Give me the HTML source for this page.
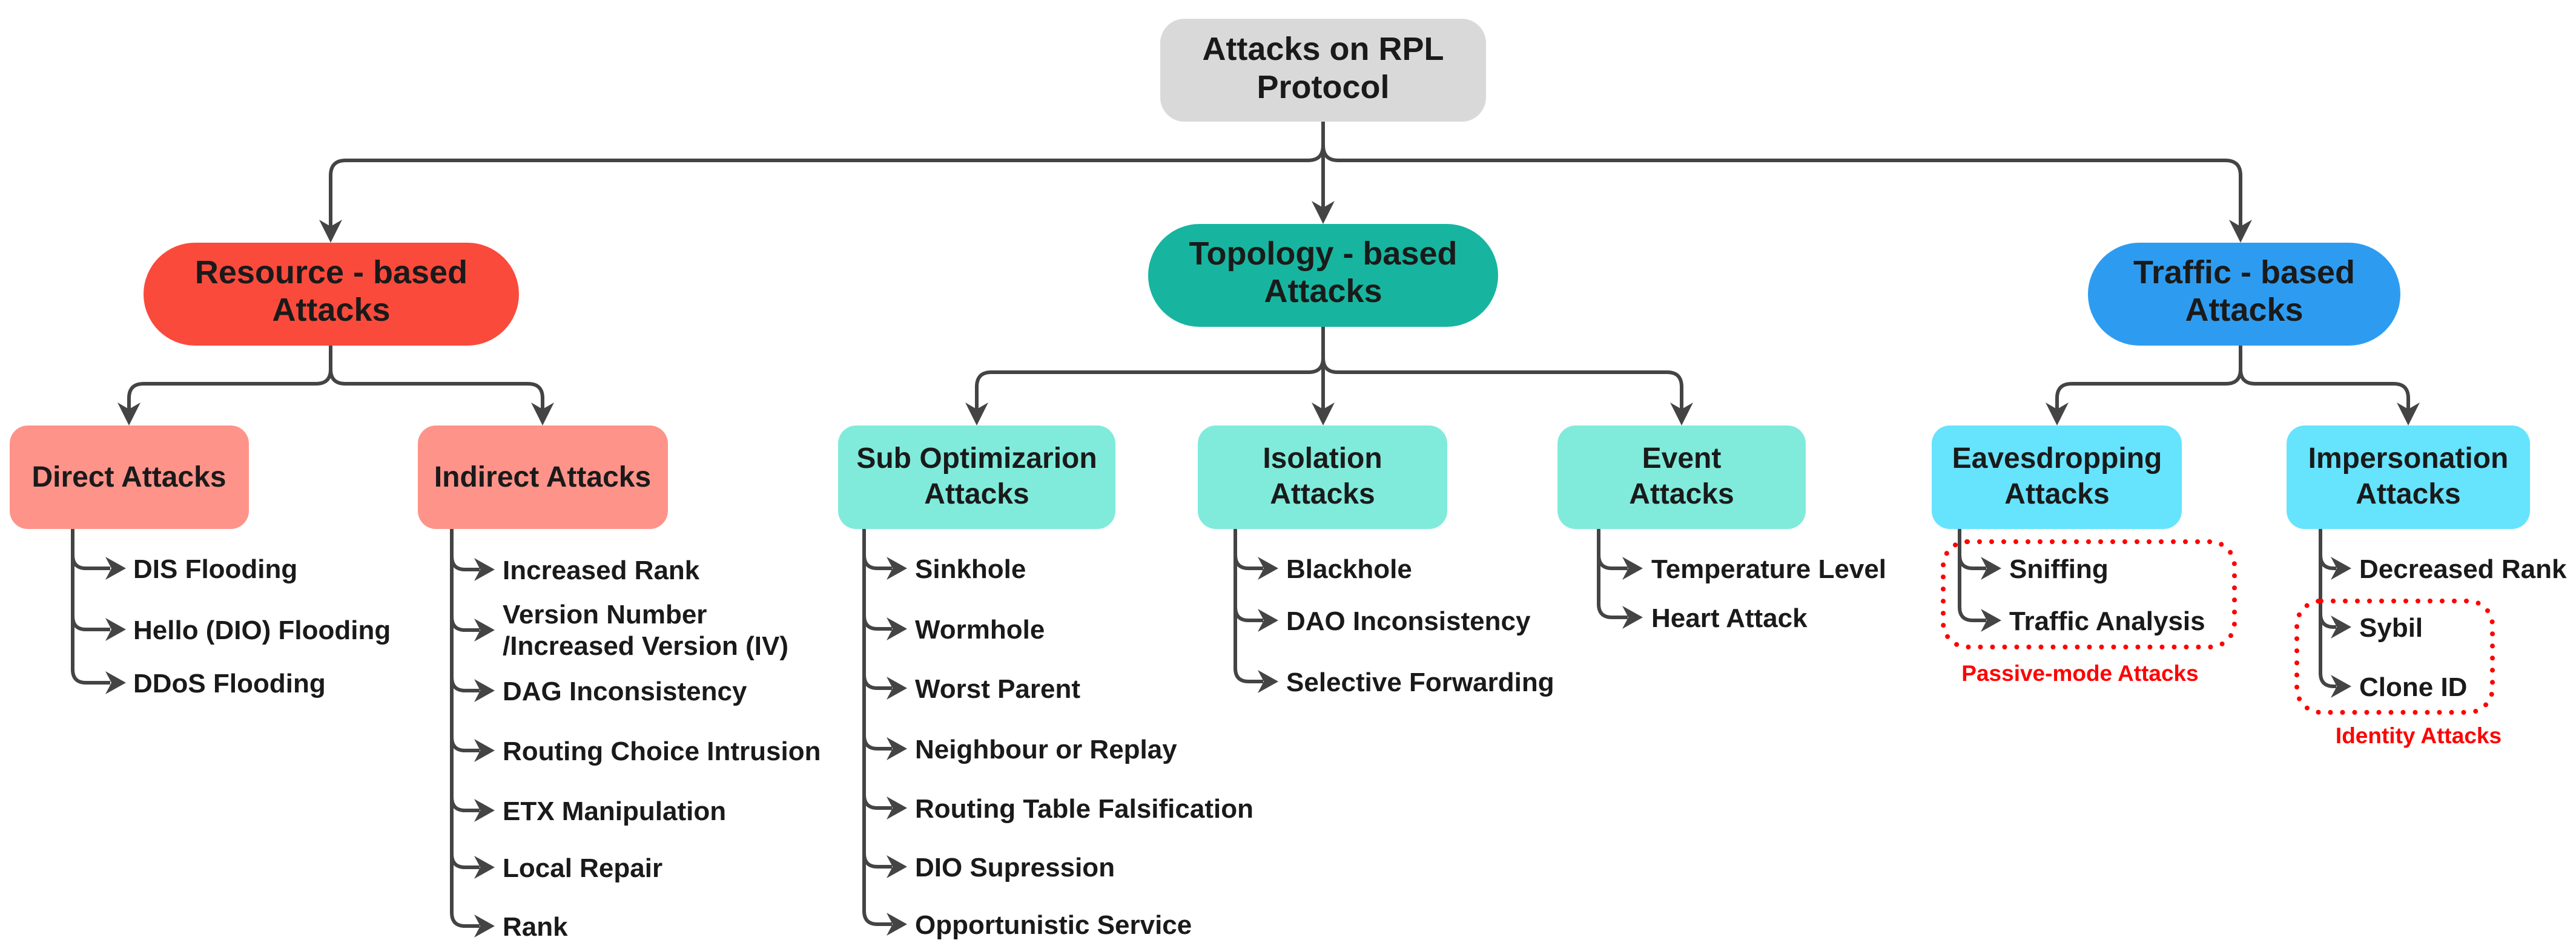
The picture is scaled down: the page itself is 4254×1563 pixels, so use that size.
<!DOCTYPE html>
<html><head><meta charset="utf-8"><style>
html,body{margin:0;padding:0;background:#fff}
svg{display:block}
text{font-family:"Liberation Sans",sans-serif;font-weight:bold;fill:#1a1a1a}
.it{font-size:44px}
.bx{font-size:48px;text-anchor:middle}
.tp{font-size:54px;text-anchor:middle}
.rd{font-size:37px;fill:#ff0000;text-anchor:middle}
.ln{fill:none;stroke:#444;stroke-width:6}
.ah{fill:#444}
</style></head><body>
<svg width="4254" height="1563" viewBox="0 0 4254 1563" xmlns="http://www.w3.org/2000/svg">
<defs>
<polygon id="ra" class="ah" points="0,0 -34,-19 -24,0 -34,19"/>
<polygon id="da" class="ah" points="0,0 -19,-38 0,-27 19,-38"/>
</defs>
<rect x="1916" y="31" width="538" height="170" rx="40" fill="#d9d9d9"/>
<text class="tp" x="2185" y="99">Attacks on RPL</text>
<text class="tp" x="2185" y="162">Protocol</text>
<path class="ln" d="M2185,201 V240 Q2185,265 2160,265 H571 Q546,265 546,290 V380"/>
<path class="ln" d="M2185,240 Q2185,265 2210,265 H3675 Q3700,265 3700,290 V380"/>
<path class="ln" d="M2185,240 V350"/>
<use href="#da" x="546" y="401"/>
<use href="#da" x="2185" y="370"/>
<use href="#da" x="3700" y="401"/>
<rect x="237" y="401" width="620" height="170" rx="85" fill="#fa4a3c"/>
<text class="tp" x="547" y="468">Resource - based</text>
<text class="tp" x="547" y="530">Attacks</text>
<rect x="1896" y="370" width="578" height="170" rx="85" fill="#17b59f"/>
<text class="tp" x="2185" y="437">Topology - based</text>
<text class="tp" x="2185" y="499">Attacks</text>
<rect x="3448" y="401" width="516" height="170" rx="85" fill="#2d9cf0"/>
<text class="tp" x="3706" y="468">Traffic - based</text>
<text class="tp" x="3706" y="530">Attacks</text>
<path class="ln" d="M546,571 V610 Q546,634 522,634 H237 Q213,634 213,658 V685"/>
<path class="ln" d="M546,610 Q546,634 570,634 H872 Q896,634 896,658 V685"/>
<use href="#da" x="213" y="703"/>
<use href="#da" x="896" y="703"/>
<path class="ln" d="M2185,540 V591 Q2185,615 2161,615 H1637 Q1613,615 1613,639 V685"/>
<path class="ln" d="M2185,591 Q2185,615 2209,615 H2753 Q2777,615 2777,639 V685"/>
<path class="ln" d="M2185,591 V685"/>
<use href="#da" x="1613" y="703"/>
<use href="#da" x="2185" y="703"/>
<use href="#da" x="2777" y="703"/>
<path class="ln" d="M3700,571 V610 Q3700,634 3676,634 H3421 Q3397,634 3397,658 V685"/>
<path class="ln" d="M3700,610 Q3700,634 3724,634 H3953 Q3977,634 3977,658 V685"/>
<use href="#da" x="3397" y="703"/>
<use href="#da" x="3977" y="703"/>
<rect x="16" y="703" width="395" height="171" rx="30" fill="#fe938a"/>
<text class="bx" x="213" y="804">Direct Attacks</text>
<rect x="690" y="703" width="413" height="171" rx="30" fill="#fe938a"/>
<text class="bx" x="896" y="804">Indirect Attacks</text>
<rect x="1384" y="703" width="458" height="171" rx="30" fill="#80ebdb"/>
<text class="bx" x="1613" y="773">Sub Optimizarion</text>
<text class="bx" x="1613" y="832">Attacks</text>
<rect x="1978" y="703" width="412" height="171" rx="30" fill="#80ebdb"/>
<text class="bx" x="2184" y="773">Isolation</text>
<text class="bx" x="2184" y="832">Attacks</text>
<rect x="2572" y="703" width="410" height="171" rx="30" fill="#80ebdb"/>
<text class="bx" x="2777" y="773">Event</text>
<text class="bx" x="2777" y="832">Attacks</text>
<rect x="3190" y="703" width="413" height="171" rx="30" fill="#66e3fd"/>
<text class="bx" x="3397" y="773">Eavesdropping</text>
<text class="bx" x="3397" y="832">Attacks</text>
<rect x="3776" y="703" width="402" height="171" rx="30" fill="#66e3fd"/>
<text class="bx" x="3977" y="773">Impersonation</text>
<text class="bx" x="3977" y="832">Attacks</text>

<path class="ln" d="M120,874 V1106"/>
<path class="ln" d="M120,917 Q120,939 142,939 H182 M120,1018 Q120,1040 142,1040 H182 M120,1106 Q120,1128 142,1128 H182"/>
<use href="#ra" x="208" y="939"/><use href="#ra" x="208" y="1040"/><use href="#ra" x="208" y="1128"/>
<text class="it" x="220" y="955">DIS Flooding</text>
<text class="it" x="220" y="1056">Hello (DIO) Flooding</text>
<text class="it" x="220" y="1144">DDoS Flooding</text>

<path class="ln" d="M746,874 V1508"/>
<path class="ln" d="M746,919 Q746,941 768,941 H792 M746,1019 Q746,1041 768,1041 H792 M746,1119 Q746,1141 768,1141 H792 M746,1218 Q746,1240 768,1240 H792 M746,1317 Q746,1339 768,1339 H792 M746,1411 Q746,1433 768,1433 H792 M746,1508 Q746,1530 768,1530 H792"/>
<use href="#ra" x="817" y="941"/><use href="#ra" x="817" y="1041"/><use href="#ra" x="817" y="1141"/><use href="#ra" x="817" y="1240"/><use href="#ra" x="817" y="1339"/><use href="#ra" x="817" y="1433"/><use href="#ra" x="817" y="1530"/>
<text class="it" x="830" y="957">Increased Rank</text>
<text class="it" x="830" y="1030">Version Number</text>
<text class="it" x="830" y="1082">/Increased Version (IV)</text>
<text class="it" x="830" y="1157">DAG Inconsistency</text>
<text class="it" x="830" y="1256">Routing Choice Intrusion</text>
<text class="it" x="830" y="1355">ETX Manipulation</text>
<text class="it" x="830" y="1449">Local Repair</text>
<text class="it" x="830" y="1546">Rank</text>

<path class="ln" d="M1427,874 V1505"/>
<path class="ln" d="M1427,917 Q1427,939 1449,939 H1473 M1427,1017 Q1427,1039 1449,1039 H1473 M1427,1115 Q1427,1137 1449,1137 H1473 M1427,1215 Q1427,1237 1449,1237 H1473 M1427,1313 Q1427,1335 1449,1335 H1473 M1427,1410 Q1427,1432 1449,1432 H1473 M1427,1505 Q1427,1527 1449,1527 H1473"/>
<use href="#ra" x="1498" y="939"/><use href="#ra" x="1498" y="1039"/><use href="#ra" x="1498" y="1137"/><use href="#ra" x="1498" y="1237"/><use href="#ra" x="1498" y="1335"/><use href="#ra" x="1498" y="1432"/><use href="#ra" x="1498" y="1527"/>
<text class="it" x="1511" y="955">Sinkhole</text>
<text class="it" x="1511" y="1055">Wormhole</text>
<text class="it" x="1511" y="1153">Worst Parent</text>
<text class="it" x="1511" y="1253">Neighbour or Replay</text>
<text class="it" x="1511" y="1351">Routing Table Falsification</text>
<text class="it" x="1511" y="1448">DIO Supression</text>
<text class="it" x="1511" y="1543">Opportunistic Service</text>

<path class="ln" d="M2040,874 V1104"/>
<path class="ln" d="M2040,917 Q2040,939 2062,939 H2086 M2040,1003 Q2040,1025 2062,1025 H2086 M2040,1104 Q2040,1126 2062,1126 H2086"/>
<use href="#ra" x="2111" y="939"/><use href="#ra" x="2111" y="1025"/><use href="#ra" x="2111" y="1126"/>
<text class="it" x="2124" y="955">Blackhole</text>
<text class="it" x="2124" y="1041">DAO Inconsistency</text>
<text class="it" x="2124" y="1142">Selective Forwarding</text>

<path class="ln" d="M2640,874 V998"/>
<path class="ln" d="M2640,917 Q2640,939 2662,939 H2688 M2640,998 Q2640,1020 2662,1020 H2688"/>
<use href="#ra" x="2713" y="939"/><use href="#ra" x="2713" y="1020"/>
<text class="it" x="2727" y="955">Temperature Level</text>
<text class="it" x="2727" y="1036">Heart Attack</text>

<path class="ln" d="M3236,874 V1003"/>
<path class="ln" d="M3236,917 Q3236,939 3258,939 H3280 M3236,1003 Q3236,1025 3258,1025 H3280"/>
<use href="#ra" x="3305" y="939"/><use href="#ra" x="3305" y="1025"/>
<text class="it" x="3318" y="955">Sniffing</text>
<text class="it" x="3318" y="1041">Traffic Analysis</text>
<rect x="3209" y="895" width="481" height="174" rx="40" fill="none" stroke="#ff0000" stroke-width="8" stroke-dasharray="0 20" stroke-linecap="round"/>
<text class="rd" x="3435" y="1125">Passive-mode Attacks</text>

<path class="ln" d="M3832,874 V1112"/>
<path class="ln" d="M3832,917 Q3832,939 3854,939 H3858 M3832,1014 Q3832,1036 3854,1036 H3858 M3832,1112 Q3832,1134 3854,1134 H3858"/>
<use href="#ra" x="3883" y="939"/><use href="#ra" x="3883" y="1036"/><use href="#ra" x="3883" y="1134"/>
<text class="it" x="3896" y="955">Decreased Rank</text>
<text class="it" x="3896" y="1052">Sybil</text>
<text class="it" x="3896" y="1150">Clone ID</text>
<rect x="3793" y="993" width="323" height="184" rx="40" fill="none" stroke="#ff0000" stroke-width="8" stroke-dasharray="0 20" stroke-linecap="round"/>
<text class="rd" x="3994" y="1228">Identity Attacks</text>
</svg>
</body></html>
